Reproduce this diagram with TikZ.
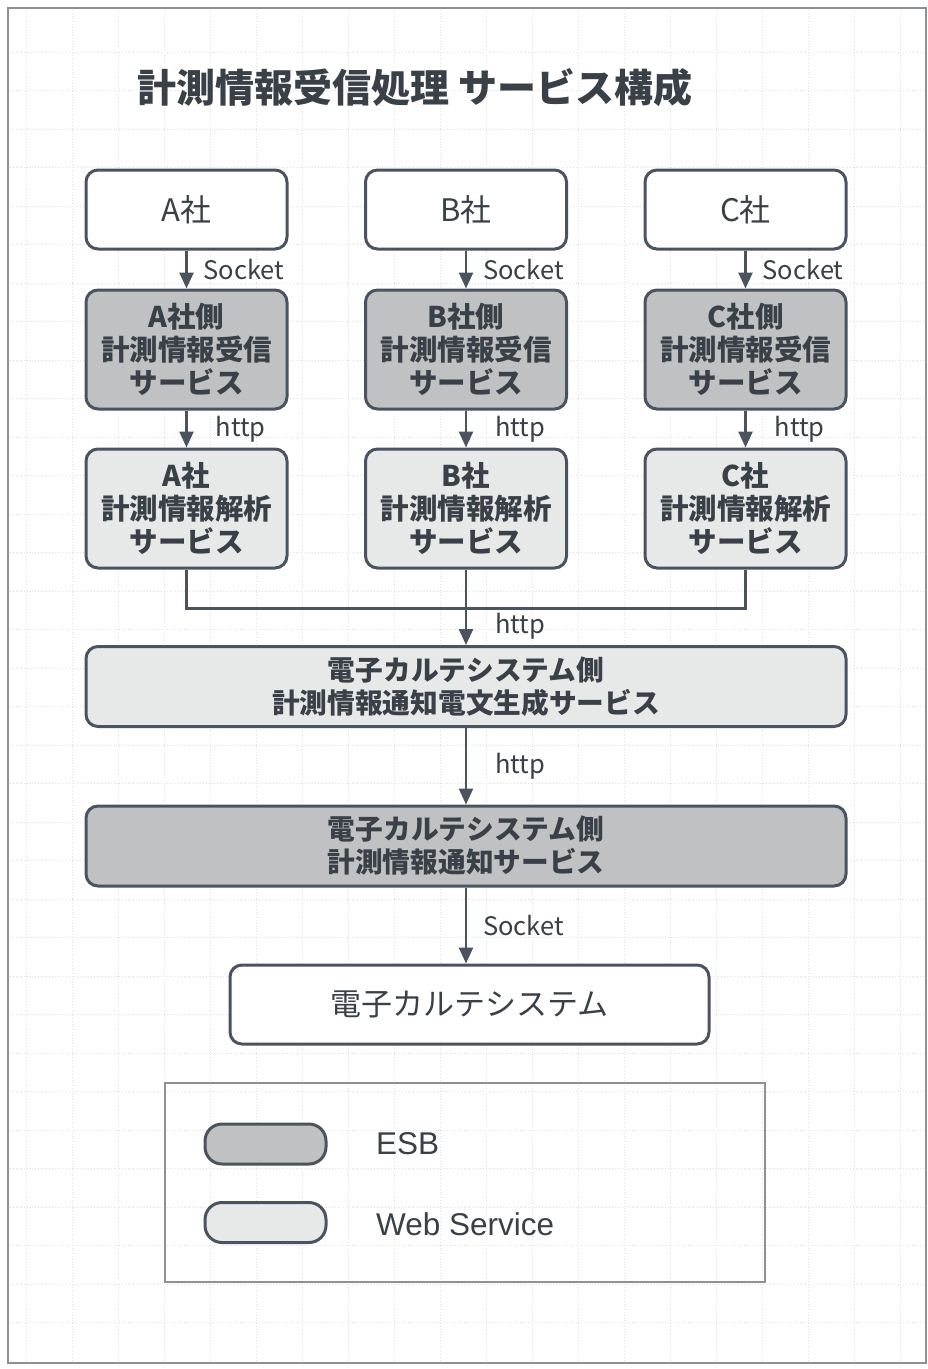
\documentclass[tikz,border=0pt]{standalone}
\usepackage{fontspec}
\setmainfont{Noto Sans CJK JP}
\newfontfamily\latf{Liberation Sans}
\usetikzlibrary{arrows.meta,calc}
\definecolor{ln}{HTML}{4B545E}
\definecolor{tx}{HTML}{3A4047}
\definecolor{esbfill}{HTML}{BFC1C2}
\definecolor{wsfill}{HTML}{E7E8E8}
\definecolor{gridc}{HTML}{E2E2E2}
\definecolor{framec}{HTML}{8C9196}
\begin{document}
\begin{tikzpicture}[x=1pt,y=-1pt,
  box/.style={draw=ln, line width=3pt, rounded corners=12pt, text=tx, align=center, inner sep=0pt},
  cobox/.style={box, fill=white, minimum width=201pt, minimum height=79pt, font=\fontsize{31}{31}\selectfont},
  esbbox/.style={box, fill=esbfill, minimum width=201pt, minimum height=119pt, font=\bfseries\fontsize{28.5}{33}\selectfont},
  wsbox/.style={box, fill=wsfill, minimum width=201pt, minimum height=119pt, font=\bfseries\fontsize{28.5}{33}\selectfont},
  widebox/.style={box, minimum width=760pt, minimum height=80pt, font=\bfseries\fontsize{27.7}{33}\selectfont},
  arr/.style={draw=ln, line width=2.5pt, -{Triangle[length=16pt,width=14pt]}},
  conn/.style={draw=ln, line width=2.5pt},
  lbl/.style={anchor=west, text=tx, inner sep=0pt, font=\fontsize{25.5}{25.5}\selectfont},
  legtxt/.style={anchor=west, text=tx, inner sep=0pt, font=\latf\fontsize{31.5}{31.5}\selectfont},
  swatch/.style={draw=ln, line width=3pt, rounded corners=17pt, minimum width=121pt, minimum height=40pt, inner sep=0pt}
]
\useasboundingbox (0,0) rectangle (928,1369);
\fill[white] (0,0) rectangle (928,1369);
% faint grid
\foreach \yy in {52,90.5,...,1345} \draw[gridc, line width=0.8pt, dotted] (10,\yy) -- (924,\yy);
\foreach \xx in {26,72,...,924} \draw[gridc, line width=0.8pt, dotted] (\xx,10) -- (\xx,1361);
\draw[framec, line width=2pt] (8,8) rectangle (926,1363);

\node[anchor=west, text=tx, inner sep=0pt, font=\bfseries\fontsize{39}{39}\selectfont] (title) at (137,88) {計測情報受信処理 サービス構成};

% top company boxes
\node[cobox] (a0) at (186.5,209.5) {A社};
\node[cobox] (b0) at (466,209.5) {B社};
\node[cobox] (c0) at (745.5,209.5) {C社};
% ESB receive boxes
\node[esbbox] (a1) at (186.5,349.5) {A社側\\計測情報受信\\サービス};
\node[esbbox] (b1) at (466,349.5) {B社側\\計測情報受信\\サービス};
\node[esbbox] (c1) at (745.5,349.5) {C社側\\計測情報受信\\サービス};
% web service analysis boxes
\node[wsbox] (a2) at (186.5,508.5) {A社\\計測情報解析\\サービス};
\node[wsbox] (b2) at (466,508.5) {B社\\計測情報解析\\サービス};
\node[wsbox] (c2) at (745.5,508.5) {C社\\計測情報解析\\サービス};
% wide boxes
\node[widebox, fill=wsfill] (g1) at (466,686.5) {電子カルテシステム側\\計測情報通知電文生成サービス};
\node[widebox, fill=esbfill] (g2) at (466,846) {電子カルテシステム側\\計測情報通知サービス};
\node[box, fill=white, minimum width=479pt, minimum height=79pt, font=\fontsize{31}{31}\selectfont] (sys) at (469.5,1004.5) {電子カルテシステム};

% arrows column-wise
\foreach \c in {a,b,c}{
  \draw[arr] (\c0.south) -- (\c1.north) node[lbl, pos=0.5, xshift=16pt] {Socket};
  \draw[arr] (\c1.south) -- (\c2.north) node[lbl, pos=0.5, xshift=28pt] {http};
}
% merge
\draw[conn] (a2.south) -- ++(0,39) coordinate (ja) -| (c2.south);
\draw[arr] (b2.south) -- (b2.south |- g1.north) node[lbl, pos=0.75, xshift=28pt] {http};
\draw[arr] (g1.south) -- (g2.north) node[lbl, pos=0.5, xshift=28pt] {http};
\draw[arr] (g2.south) -- (g2.south |- sys.north) node[lbl, pos=0.5, xshift=16pt] {Socket};

% legend
\node[draw=framec, line width=2pt, minimum width=600pt, minimum height=199pt, inner sep=0pt] (leg) at (465,1182.5) {};
\node[swatch, fill=esbfill] (sw1) at (265.5,1144) {};
\node[legtxt] (l1) at (376,1144) {ESB};
\node[swatch, fill=wsfill] (sw2) at (265.5,1222.5) {};
\node[legtxt] (l2) at (376,1224) {Web Service};
\end{tikzpicture}
\end{document}
